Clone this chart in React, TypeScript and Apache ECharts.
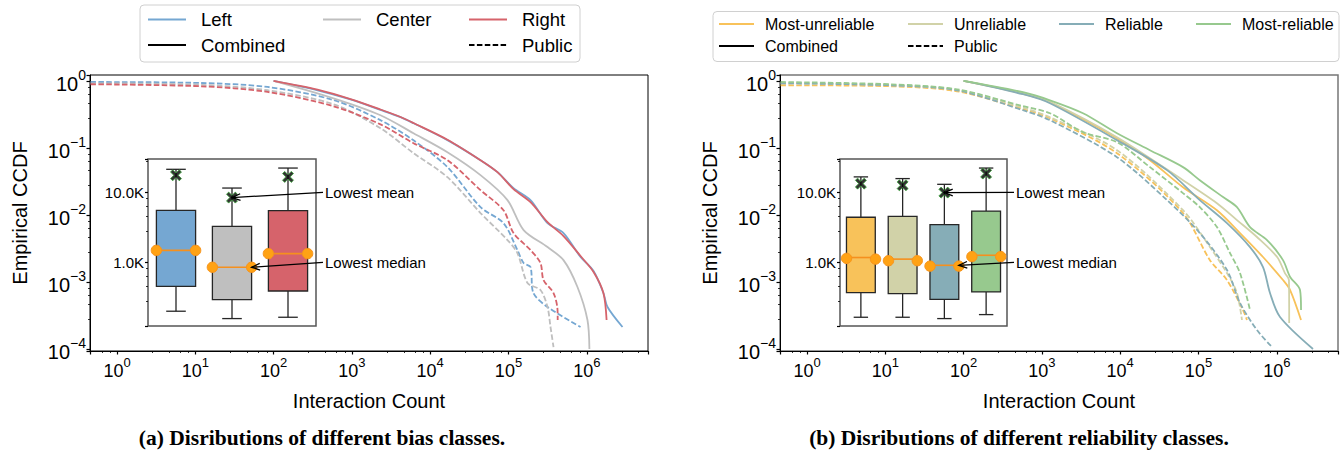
import React, { useEffect, useRef } from 'react';
import * as echarts from 'echarts';

const FONT = "'Liberation Sans', Arial, Helvetica, sans-serif";
const SERIF = "'Liberation Serif', 'Times New Roman', serif";

// ---------- CCDF data: [interaction count, empirical CCDF] ----------
// (a) bias classes
const leftCombined = [[100, 1.0], [364, 0.727], [959, 0.53], [2317, 0.37], [4178, 0.288], [6124, 0.234], [16600, 0.131], [43900, 0.0658], [72300, 0.0436], [116000, 0.0252], [191000, 0.0167], [315000, 0.00757], [504000, 0.00537], [832000, 0.00236], [1220000, 0.00146], [1630000, 0.000685], [1840000, 0.000424], [2860000, 0.000213]];
const centerCombined = [[100, 1.0], [582, 0.55], [2317, 0.308], [6124, 0.166], [16600, 0.0865], [43900, 0.0394], [97000, 0.0167], [156000, 0.00596], [315000, 0.00332], [504000, 0.00212], [760000, 0.000842], [1020000, 0.000271], [1080000, 0.0001]];
const rightCombined = [[100, 1.0], [364, 0.74], [959, 0.535], [2317, 0.375], [4178, 0.29], [6124, 0.236], [16600, 0.133], [43900, 0.0658], [72300, 0.0436], [116000, 0.0243], [191000, 0.0156], [315000, 0.00783], [504000, 0.00484], [832000, 0.00244], [1220000, 0.00141], [1630000, 0.000685], [1790000, 0.000271]];
const leftPublic = [[0.46, 0.966], [11.6, 0.934], [83.6, 0.814], [582, 0.52], [2317, 0.26], [6124, 0.13], [16600, 0.0518], [43900, 0.0131], [86300, 0.00757], [130000, 0.003], [156000, 0.00192], [191000, 0.00167], [208000, 0.000685], [315000, 0.000424], [832000, 0.000213]];
const centerPublic = [[0.46, 0.924], [11.6, 0.878], [83.6, 0.727], [582, 0.45], [2317, 0.197], [6124, 0.0837], [16600, 0.0367], [43900, 0.0107], [97000, 0.00423], [130000, 0.0027], [175000, 0.000966], [256000, 0.000759], [315000, 0.000424], [344000, 0.000213], [376000, 0.000107]];
const rightPublic = [[0.46, 0.893], [11.6, 0.834], [83.6, 0.686], [582, 0.42], [2317, 0.225], [6124, 0.118], [16600, 0.0658], [43900, 0.0235], [86300, 0.0118], [116000, 0.00537], [191000, 0.003], [256000, 0.00192], [280000, 0.00107], [376000, 0.000685], [423000, 0.000382], [425000, 0.000271]];

// (b) reliability classes
const mostUnreliableCombined = [[100, 1.0], [574, 0.644], [1268, 0.482], [9100, 0.14], [24000, 0.0658], [63400, 0.026], [172000, 0.0118], [339000, 0.00537], [667000, 0.00236], [1200000, 0.00107], [1480000, 0.000759], [2040000, 0.000271]];
const unreliableCombined = [[100, 1.0], [574, 0.656], [1268, 0.49], [9100, 0.145], [63400, 0.0331], [172000, 0.015], [310000, 0.0084], [558000, 0.00469], [1010000, 0.00236], [1270000, 0.00136], [1430000, 0.00107], [1440000, 0.000244]];
const reliableCombined = [[100, 1.0], [574, 0.634], [1268, 0.465], [9100, 0.131], [39600, 0.0467], [104000, 0.0167], [231000, 0.00757], [455000, 0.00332], [667000, 0.00167], [819000, 0.000685], [1100000, 0.0003], [2900000, 0.0001]];
const mostReliableCombined = [[100, 1.0], [574, 0.679], [1268, 0.515], [3350, 0.33], [9100, 0.166], [24000, 0.0927], [63400, 0.0518], [104000, 0.0331], [206000, 0.0185], [310000, 0.0131], [455000, 0.0066], [750000, 0.00423], [1200000, 0.00212], [1480000, 0.00119], [1980000, 0.000759], [2040000, 0.000382]];
const mostUnreliablePublic = [[0.46, 0.863], [11.5, 0.834], [82.4, 0.702], [574, 0.38], [1268, 0.278], [9100, 0.0837], [63400, 0.0107], [140000, 0.00212], [231000, 0.00107], [370000, 0.000382], [416000, 0.000271]];
const unreliablePublic = [[0.46, 0.924], [11.5, 0.863], [82.4, 0.727], [574, 0.4], [1268, 0.288], [9100, 0.0927], [63400, 0.0118], [140000, 0.00332], [231000, 0.00136], [310000, 0.000685], [359000, 0.000271]];
const reliablePublic = [[0.46, 0.924], [11.5, 0.863], [82.4, 0.727], [574, 0.366], [1268, 0.26], [9100, 0.0729], [39600, 0.0167], [104000, 0.00537], [231000, 0.00151], [339000, 0.000486], [558000, 0.000192], [869000, 0.000107]];
const mostReliablePublic = [[0.46, 0.966], [11.5, 0.893], [82.4, 0.752], [574, 0.42], [1268, 0.33], [3350, 0.172], [9100, 0.122], [24000, 0.0518], [63400, 0.0212], [104000, 0.0131], [172000, 0.0066], [253000, 0.0027], [339000, 0.00136], [455000, 0.000382]];

// ---------- inset box plots ----------
const leftCats = ['Left', 'Center', 'Right'];
const leftLowWhisker = [200, 157, 164];
const leftQ1 = [454, 293, 389];
const leftMedian = [1480, 849, 1330];
const leftQ3 = [5500, 3270, 5470];
const leftHighWhisker = [21300, 11500, 22200];
const leftMean = [17500, 8400, 16600];

const rightCats = ['Most-unreliable', 'Unreliable', 'Reliable', 'Most-reliable'];
const rightLowWhisker = [164, 164, 157, 179];
const rightQ1 = [369, 357, 296, 377];
const rightMedian = [1170, 1110, 906, 1260];
const rightQ3 = [4400, 4540, 3460, 5400];
const rightHighWhisker = [16600, 15700, 13000, 22200];
const rightMean = [13300, 12600, 9900, 18500];

const annotationLabels = ['Lowest mean', 'Lowest median'];
const annotationTextLevels = [10000, 1000];

const leftColors = ['#75a7d2', '#bfbfbf', '#d6636b'];
const rightColors = ['#f8c25a', '#d1d2a8', '#86adb7', '#97c98e'];

const X_MIN = 0.452;
const X_MAX = 6.05e6;
const Y_MIN = 9.34e-5;
const Y_MAX = 1.228;
const INSET_MIN = 123;
const INSET_MAX = 29900;

const isPow10 = (v: number) => {
  const e = Math.log10(v);
  return Math.abs(e - Math.round(e)) < 1e-6;
};
const powFmt = (v: number) => {
  if (!isPow10(v)) return '';
  const r = Math.round(Math.log10(v));
  const s = r < 0 ? '\u2212' + -r : String(r);
  return `{b|10}{s|${s}}`;
};
const kFmt = (v: number) => (isPow10(v) ? (v / 1000).toFixed(1) + 'K' : '');

const rich = (base: number, sup: number) => ({
  b: { fontSize: base, fontFamily: FONT, color: '#000', lineHeight: base + 6, verticalAlign: 'bottom' },
  s: { fontSize: sup, fontFamily: FONT, color: '#000', lineHeight: sup + 2, verticalAlign: 'top' },
});

const minor = { show: true, splitNumber: 5, length: 2, lineStyle: { color: '#000', width: 0.8 } };

function mainX(gi: number) {
  return {
    type: 'log', gridIndex: gi, min: X_MIN, max: X_MAX, logBase: 10,
    name: 'Interaction Count', nameLocation: 'middle', nameGap: 40,
    nameTextStyle: { fontSize: 20, color: '#000', fontFamily: FONT },
    axisLine: { show: true, onZero: false, lineStyle: { color: '#000', width: 1 } },
    axisTick: { show: true, length: 3.5, lineStyle: { color: '#000', width: 1.2 } },
    minorTick: minor,
    splitLine: { show: false },
    axisLabel: { formatter: powFmt, margin: 5, rich: rich(18, 13) },
  };
}
function mainY(gi: number) {
  return {
    type: 'log', gridIndex: gi, min: Y_MIN, max: Y_MAX, logBase: 10,
    name: 'Empirical CCDF', nameLocation: 'middle', nameGap: 60,
    nameTextStyle: { fontSize: 20, color: '#000', fontFamily: FONT },
    axisLine: { show: true, onZero: false, lineStyle: { color: '#000', width: 1 } },
    axisTick: { show: true, length: 3.5, lineStyle: { color: '#000', width: 1.2 } },
    minorTick: minor,
    splitLine: { show: false },
    axisLabel: { formatter: powFmt, margin: 4, rich: rich(20, 14) },
  };
}
function insetX(gi: number, cats: string[]) {
  return {
    type: 'category', gridIndex: gi, data: cats, boundaryGap: true,
    axisLine: { show: false }, axisTick: { show: false }, axisLabel: { show: false }, splitLine: { show: false },
  };
}
function insetY(gi: number) {
  return {
    type: 'log', gridIndex: gi, min: INSET_MIN, max: INSET_MAX, logBase: 10,
    axisLine: { show: false },
    axisTick: { show: true, length: 3, lineStyle: { color: '#000', width: 1.2 } },
    minorTick: minor,
    splitLine: { show: false },
    axisLabel: { formatter: kFmt, fontSize: 15, color: '#000', margin: 4, fontFamily: FONT },
  };
}

function lineSeries(name: string, data: number[][], color: string, dashed: boolean, gi: number) {
  return {
    type: 'line', name, data, xAxisIndex: gi, yAxisIndex: gi,
    showSymbol: false, symbol: 'none', silent: true, z: dashed ? 2 : 3,
    smooth: 0.3,
    lineStyle: { color, width: 1.8, type: dashed ? [5.5, 2.4] : 'solid' },
    itemStyle: { color },
  };
}

function boxRenderer(colors: string[], nCats: number, ratio: number) {
  return (params: any, api: any) => {
    const i = api.value(0);
    const cs = params.coordSys;
    const bw = (cs.width / nCats) * ratio;
    const p = (k: number) => api.coord([i, api.value(k)]);
    const cx = p(3)[0];
    const yLw = p(1)[1], yQ1 = p(2)[1], yMed = p(3)[1], yQ3 = p(4)[1], yUw = p(5)[1];
    const edge = '#262626';
    const ws = { stroke: edge, lineWidth: 1.3 };
    const dot = { fill: '#ffa214', stroke: '#f7941d', lineWidth: 1 };
    return {
      type: 'group',
      children: [
        { type: 'line', shape: { x1: cx, y1: yQ1, x2: cx, y2: yLw }, style: ws },
        { type: 'line', shape: { x1: cx, y1: yQ3, x2: cx, y2: yUw }, style: ws },
        { type: 'line', shape: { x1: cx - bw / 4, y1: yLw, x2: cx + bw / 4, y2: yLw }, style: ws },
        { type: 'line', shape: { x1: cx - bw / 4, y1: yUw, x2: cx + bw / 4, y2: yUw }, style: ws },
        { type: 'rect', shape: { x: cx - bw / 2, y: yQ3, width: bw, height: yQ1 - yQ3 }, style: { fill: colors[i], stroke: edge, lineWidth: 1.3 } },
        { type: 'line', shape: { x1: cx - bw / 2, y1: yMed, x2: cx + bw / 2, y2: yMed }, style: { stroke: '#f5901e', lineWidth: 1.6 } },
        { type: 'circle', shape: { cx: cx - bw / 2, cy: yMed, r: 5.2 }, style: dot },
        { type: 'circle', shape: { cx: cx + bw / 2, cy: yMed, r: 5.2 }, style: dot },
      ],
    };
  };
}

function annotRenderer(nCats: number, ratio: number, offsets: number[]) {
  return (params: any, api: any) => {
    const idx = params.dataIndex;
    const i = api.value(0);
    const cs = params.coordSys;
    const bw = (cs.width / nCats) * ratio;
    const t = api.coord([i, api.value(1)]);
    const tip = [t[0] + (offsets[idx] * bw) / 2, t[1]];
    const ty = api.coord([i, api.value(2)])[1];
    const tx = cs.x + cs.width + 9;
    const sx = tx - 2, sy = ty;
    const dx = tip[0] - sx, dy = tip[1] - sy;
    const len = Math.hypot(dx, dy) || 1;
    const ux = dx / len, uy = dy / len;
    const hl = 9, a = 0.38, c = Math.cos(a), s = Math.sin(a);
    const h1 = [tip[0] - hl * (ux * c - uy * s), tip[1] - hl * (uy * c + ux * s)];
    const h2 = [tip[0] - hl * (ux * c + uy * s), tip[1] - hl * (uy * c - ux * s)];
    return {
      type: 'group',
      children: [
        { type: 'line', shape: { x1: sx, y1: sy, x2: tip[0], y2: tip[1] }, style: { stroke: '#000', lineWidth: 1.3 } },
        { type: 'polyline', shape: { points: [h1, tip, h2] }, style: { stroke: '#000', lineWidth: 1.3, fill: null } },
        { type: 'text', x: tx, y: ty, style: { text: annotationLabels[idx], fontSize: 15, fontFamily: FONT, fill: '#000', align: 'left', verticalAlign: 'middle' } },
      ],
    };
  };
}

const X_SYMBOL = 'path://M2,0 L5,3 L8,0 L10,2 L7,5 L10,8 L8,10 L5,7 L2,10 L0,8 L3,5 L0,2 Z';

function legendItem(name: string, left: number, rowY: number, fontSize: number, itemWidth: number, pad: number, lh: number) {
  return {
    data: [name], left, top: rowY - lh / 2, orient: 'horizontal', padding: 0,
    itemWidth, itemHeight: lh, itemGap: 0, selectedMode: false,
    itemStyle: { opacity: 0, borderWidth: 0 },
    textStyle: { fontSize, fontFamily: FONT, color: '#000', padding: [0, 0, 0, pad], lineHeight: lh },
  };
}

export default function App() {
  const ref = useRef<HTMLDivElement>(null);
  useEffect(() => {
    document.body.style.margin = '0';
    if (!ref.current) return;
    const chart = echarts.init(ref.current, null, { renderer: 'svg' });

    const boxData = (lw: number[], q1: number[], md: number[], q3: number[], hw: number[]) =>
      lw.map((_, i) => [i, lw[i], q1[i], md[i], q3[i], hw[i]]);

    const option: any = {
      animation: false,
      backgroundColor: '#fff',
      textStyle: { fontFamily: FONT },
      grid: [
        { left: 90, top: 75, width: 558, height: 276, show: true, borderColor: '#000', borderWidth: 1, backgroundColor: 'transparent' },
        { left: 780, top: 75, width: 558, height: 276, show: true, borderColor: '#777', borderWidth: 1.5, backgroundColor: 'transparent' },
        { left: 148, top: 159, width: 168, height: 167, show: true, borderColor: '#555', borderWidth: 1.5, backgroundColor: '#fff' },
        { left: 840, top: 159, width: 167, height: 167, show: true, borderColor: '#555', borderWidth: 1.5, backgroundColor: '#fff' },
      ],
      xAxis: [mainX(0), mainX(1), insetX(2, leftCats), insetX(3, rightCats)],
      yAxis: [mainY(0), mainY(1), insetY(2), insetY(3)],
      legend: [
        legendItem('Left', 147, 19.5, 18.5, 38, 10, 22),
        legendItem('Center', 322, 19.5, 18.5, 38, 10, 22),
        legendItem('Right', 468, 19.5, 18.5, 38, 10, 22),
        legendItem('Combined', 147, 45, 18.5, 38, 10, 22),
        legendItem('Public', 468, 45, 18.5, 38, 10, 22),
        legendItem('Most-unreliable', 718, 24, 16, 35, 6, 20),
        legendItem('Unreliable', 907, 24, 16, 35, 6, 20),
        legendItem('Reliable', 1058, 24, 16, 35, 6, 20),
        legendItem('Most-reliable', 1195, 24, 16, 35, 6, 20),
        legendItem('Combined', 718, 46, 16, 35, 6, 20),
        legendItem('Public', 907, 46, 16, 35, 6, 20),
      ],
      graphic: [
        { type: 'rect', z: 1, shape: { x: 140, y: 5, width: 440, height: 57, r: 4 }, style: { fill: 'rgba(255,255,255,0.8)', stroke: '#d0d0d0', lineWidth: 1 } },
        { type: 'rect', z: 1, shape: { x: 713, y: 11.5, width: 626, height: 50, r: 4 }, style: { fill: 'rgba(255,255,255,0.8)', stroke: '#d0d0d0', lineWidth: 1 } },
        { type: 'text', x: 322, y: 438, style: { text: '(a) Disributions of different bias classes.', fontSize: 21.5, fontWeight: 'bold', fontFamily: SERIF, fill: '#000', align: 'center', verticalAlign: 'middle' } },
        { type: 'text', x: 1019, y: 438, style: { text: '(b) Disributions of different reliability classes.', fontSize: 21.5, fontWeight: 'bold', fontFamily: SERIF, fill: '#000', align: 'center', verticalAlign: 'middle' } },
      ],
      series: [
        { type: 'line', name: 'Combined', data: [], xAxisIndex: 0, yAxisIndex: 0, symbol: 'none', lineStyle: { color: '#000', width: 1.8 }, itemStyle: { color: '#000' } },
        { type: 'line', name: 'Public', data: [], xAxisIndex: 0, yAxisIndex: 0, symbol: 'none', lineStyle: { color: '#000', width: 1.8, type: [5.5, 2.4] }, itemStyle: { color: '#000' } },
        lineSeries('Left', leftCombined, leftColors[0], false, 0),
        lineSeries('Center', centerCombined, leftColors[1], false, 0),
        lineSeries('Right', rightCombined, leftColors[2], false, 0),
        lineSeries('Left public', leftPublic, leftColors[0], true, 0),
        lineSeries('Center public', centerPublic, leftColors[1], true, 0),
        lineSeries('Right public', rightPublic, leftColors[2], true, 0),
        lineSeries('Most-unreliable', mostUnreliableCombined, rightColors[0], false, 1),
        lineSeries('Unreliable', unreliableCombined, rightColors[1], false, 1),
        lineSeries('Reliable', reliableCombined, rightColors[2], false, 1),
        lineSeries('Most-reliable', mostReliableCombined, rightColors[3], false, 1),
        lineSeries('Most-unreliable public', mostUnreliablePublic, rightColors[0], true, 1),
        lineSeries('Unreliable public', unreliablePublic, rightColors[1], true, 1),
        lineSeries('Reliable public', reliablePublic, rightColors[2], true, 1),
        lineSeries('Most-reliable public', mostReliablePublic, rightColors[3], true, 1),
        {
          type: 'custom', name: 'bias box', xAxisIndex: 2, yAxisIndex: 2, z: 5, clip: false,
          renderItem: boxRenderer(leftColors, leftCats.length, 0.7),
          encode: { x: 0, y: [1, 2, 3, 4, 5] },
          data: boxData(leftLowWhisker, leftQ1, leftMedian, leftQ3, leftHighWhisker),
        },
        {
          type: 'custom', name: 'reliability box', xAxisIndex: 3, yAxisIndex: 3, z: 5, clip: false,
          renderItem: boxRenderer(rightColors, rightCats.length, 0.69),
          encode: { x: 0, y: [1, 2, 3, 4, 5] },
          data: boxData(rightLowWhisker, rightQ1, rightMedian, rightQ3, rightHighWhisker),
        },
        {
          type: 'scatter', name: 'bias mean', xAxisIndex: 2, yAxisIndex: 2, z: 6, symbol: X_SYMBOL, symbolSize: 11,
          itemStyle: { color: '#000', borderColor: '#3aa43a', borderWidth: 1 },
          data: leftMean.map((m, i) => [i, m]),
        },
        {
          type: 'scatter', name: 'reliability mean', xAxisIndex: 3, yAxisIndex: 3, z: 6, symbol: X_SYMBOL, symbolSize: 11,
          itemStyle: { color: '#000', borderColor: '#3aa43a', borderWidth: 1 },
          data: rightMean.map((m, i) => [i, m]),
        },
        {
          type: 'custom', name: 'bias notes', xAxisIndex: 2, yAxisIndex: 2, z: 7, clip: false,
          renderItem: annotRenderer(leftCats.length, 0.7, [0, 1]),
          encode: { x: 0, y: [1, 2] },
          data: [[1, leftMean[1], annotationTextLevels[0]], [1, leftMedian[1], annotationTextLevels[1]]],
        },
        {
          type: 'custom', name: 'reliability notes', xAxisIndex: 3, yAxisIndex: 3, z: 7, clip: false,
          renderItem: annotRenderer(rightCats.length, 0.69, [0, 1]),
          encode: { x: 0, y: [1, 2] },
          data: [[2, rightMean[2], annotationTextLevels[0]], [2, rightMedian[2], annotationTextLevels[1]]],
        },
      ],
    };
    chart.setOption(option);
    return () => chart.dispose();
  }, []);
  return <div ref={ref} style={{ width: 1344, height: 455 }} />;
}
